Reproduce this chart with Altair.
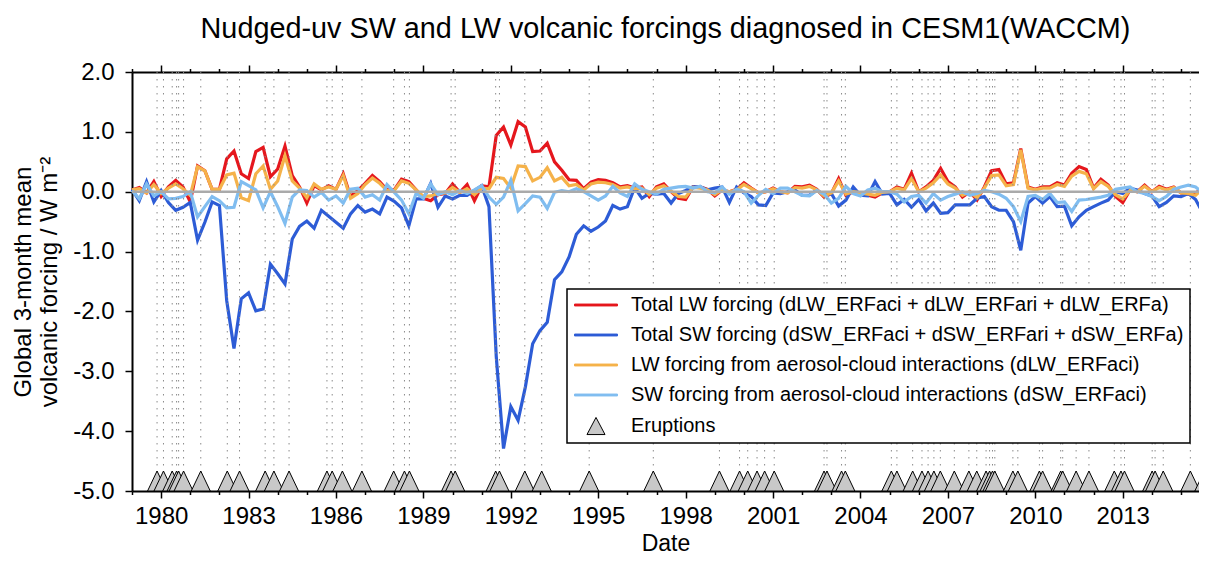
import altair as alt
import pandas as pd

# ---------------- data ----------------
start_year = 1979.0      # first 3-month mean
step_year = 0.25         # quarterly values

lw_total = [
    0.03, 0.07, -0.02, 0.17, -0.08, 0.08, 0.19, 0.08, -0.17, 0.43,
    0.35, 0.04, 0.04, 0.55, 0.68, 0.30, 0.22, 0.67, 0.74, 0.25,
    0.38, 0.76, 0.27, 0.08, -0.19, 0.10, 0.03, 0.10, 0.04, 0.30,
    -0.08, 0.02, 0.14, 0.27, 0.17, 0.03, 0.03, 0.21, 0.17, 0.03,
    -0.11, -0.15, -0.05, -0.03, 0.13, -0.01, 0.12, -0.15, 0.10, 0.08,
    0.94, 1.08, 0.78, 1.17, 1.08, 0.67, 0.68, 0.81, 0.50, 0.36,
    0.20, 0.19, 0.05, 0.16, 0.20, 0.19, 0.15, 0.08, 0.10, 0.06,
    0.08, -0.08, 0.08, 0.13, 0.00, -0.11, -0.13, 0.08, 0.08, 0.04,
    -0.07, 0.03, 0.00, 0.04, 0.15, 0.06, -0.02, 0.00, 0.06, 0.00,
    -0.02, 0.09, 0.08, 0.11, 0.04, -0.09, -0.03, 0.22, -0.06, 0.00,
    -0.03, -0.06, -0.09, -0.02, 0.00, 0.08, 0.04, 0.31, 0.00, 0.08,
    0.19, 0.39, 0.17, 0.08, -0.09, 0.00, -0.14, 0.08, 0.35, 0.37,
    0.13, 0.15, 0.72, 0.08, 0.04, 0.08, 0.08, 0.15, 0.11, 0.31,
    0.42, 0.37, 0.06, 0.21, 0.11, -0.08, -0.18, 0.03, 0.00, 0.11,
    0.00, 0.09, 0.04, 0.08, -0.02, -0.04, -0.03, 0.08,
]
sw_total = [
    0.04, -0.15, 0.17, -0.17, 0.02, -0.18, -0.31, -0.26, -0.18, -0.81,
    -0.51, -0.17, -0.23, -1.82, -2.62, -1.79, -1.69, -1.99, -1.96, -1.21,
    -1.37, -1.54, -0.79, -0.58, -0.49, -0.61, -0.31, -0.41, -0.51, -0.61,
    -0.37, -0.23, -0.34, -0.29, -0.37, -0.09, -0.16, -0.27, -0.57, -0.12,
    -0.12, 0.14, -0.26, -0.07, -0.12, -0.06, -0.06, 0.02, 0.10, -0.25,
    -2.75, -4.29, -3.59, -3.82, -3.26, -2.54, -2.32, -2.18, -1.47, -1.34,
    -1.09, -0.71, -0.57, -0.66, -0.59, -0.49, -0.23, -0.29, -0.25, 0.07,
    -0.11, -0.03, -0.04, -0.03, -0.19, -0.03, 0.02, 0.08, 0.08, 0.03,
    0.06, 0.08, -0.18, 0.08, -0.02, -0.08, -0.22, -0.23, -0.02, -0.03,
    0.00, 0.03, -0.06, -0.06, 0.03, -0.06, -0.03, -0.24, -0.14, 0.08,
    -0.06, -0.07, 0.17, -0.04, -0.03, -0.22, -0.13, -0.26, -0.13, -0.32,
    -0.19, -0.36, -0.35, -0.22, -0.22, -0.22, -0.11, -0.08, -0.25, -0.31,
    -0.31, -0.50, -0.98, -0.19, -0.08, -0.19, -0.08, -0.25, -0.24, -0.57,
    -0.42, -0.31, -0.25, -0.19, -0.14, 0.00, -0.03, 0.06, 0.03, -0.03,
    -0.07, -0.25, -0.18, -0.07, -0.08, -0.03, -0.13, -0.36,
]
lw_aci = [
    0.03, 0.05, -0.02, 0.12, -0.03, 0.06, 0.13, 0.05, -0.06, 0.42,
    0.35, 0.04, 0.04, 0.28, 0.31, -0.10, -0.15, 0.30, 0.43, 0.04,
    0.18, 0.60, 0.18, 0.06, -0.10, 0.13, 0.04, 0.08, 0.04, 0.27,
    -0.11, -0.03, 0.12, 0.23, 0.14, 0.02, 0.02, 0.18, 0.14, 0.03,
    -0.08, -0.07, -0.03, -0.02, 0.07, -0.01, 0.05, -0.05, 0.06, 0.05,
    0.24, 0.22, 0.06, 0.43, 0.42, 0.18, 0.24, 0.40, 0.18, 0.24,
    0.10, 0.12, 0.03, 0.13, 0.16, 0.15, 0.12, 0.06, 0.08, 0.05,
    0.06, -0.05, 0.06, 0.10, 0.01, -0.08, -0.09, 0.07, 0.06, 0.03,
    -0.05, 0.03, 0.00, 0.03, 0.12, 0.05, -0.02, 0.00, 0.05, 0.00,
    -0.02, 0.07, 0.06, 0.09, 0.03, -0.07, -0.02, 0.18, -0.04, 0.00,
    -0.02, -0.04, -0.06, -0.01, 0.00, 0.06, 0.03, 0.22, 0.00, 0.06,
    0.15, 0.28, 0.13, 0.06, -0.06, 0.00, -0.10, 0.06, 0.27, 0.28,
    0.10, 0.12, 0.70, 0.06, 0.03, 0.06, 0.06, 0.12, 0.09, 0.26,
    0.34, 0.30, 0.05, 0.17, 0.09, -0.05, -0.12, 0.02, 0.00, 0.09,
    0.00, 0.07, 0.03, 0.07, -0.02, -0.03, -0.06, 0.06,
]
sw_aci = [
    0.02, -0.12, 0.13, -0.07, 0.00, -0.12, -0.11, -0.08, 0.00, -0.42,
    -0.25, -0.08, -0.15, -0.27, -0.26, 0.17, 0.10, 0.03, -0.27, 0.00,
    -0.25, -0.53, -0.09, 0.03, 0.02, -0.09, -0.01, -0.14, -0.07, -0.19,
    0.04, 0.06, -0.09, -0.05, -0.14, 0.12, -0.01, -0.14, -0.37, -0.03,
    -0.11, 0.13, -0.05, 0.00, -0.05, 0.02, -0.03, 0.03, 0.10, -0.09,
    -0.21, -0.09, 0.19, -0.32, -0.20, -0.07, -0.09, -0.28, -0.01, 0.02,
    0.00, 0.05, 0.00, -0.07, -0.14, -0.07, 0.09, -0.02, -0.08, 0.13,
    0.04, 0.00, -0.04, 0.04, 0.06, 0.08, 0.09, 0.06, 0.09, 0.00,
    -0.02, 0.08, -0.04, 0.04, 0.00, -0.19, -0.06, 0.04, -0.03, 0.06,
    0.06, 0.00, -0.06, -0.07, 0.02, -0.04, -0.19, -0.11, 0.09, -0.03,
    -0.07, 0.03, 0.06, 0.00, 0.00, -0.04, -0.17, -0.08, -0.06, -0.19,
    -0.03, -0.14, -0.08, -0.04, 0.00, -0.06, -0.03, 0.02, 0.00, -0.04,
    -0.11, -0.25, -0.50, -0.08, -0.06, -0.13, -0.03, -0.18, -0.17, -0.33,
    -0.14, -0.13, -0.11, -0.09, -0.06, 0.04, 0.06, 0.08, 0.00, -0.03,
    -0.08, -0.15, -0.08, 0.04, 0.08, 0.11, 0.08, -0.02,
]
eruption_dates = [
    1979.86, 1980.08, 1980.38, 1980.53, 1980.60, 1980.77, 1981.36, 1982.27,
    1982.69, 1983.57, 1983.87, 1984.39, 1985.69, 1985.87, 1986.22, 1986.89,
    1987.98, 1988.35, 1988.52, 1989.95, 1990.09, 1991.48, 1991.61, 1992.48,
    1993.06, 1994.69, 1996.89, 1999.16, 1999.85, 2000.13, 2000.45, 2000.71,
    2001.04, 2002.75, 2002.85, 2003.35, 2003.48, 2005.06, 2005.25, 2005.79,
    2006.11, 2006.32, 2006.52, 2006.74, 2007.22, 2007.72, 2007.99, 2008.31,
    2008.43, 2008.53, 2008.61, 2009.23, 2009.40, 2010.14, 2010.25, 2010.87,
    2010.94, 2011.40, 2011.84, 2012.71, 2012.94, 2013.06, 2014.01, 2014.11,
    2014.39, 2015.32, 2015.80,
]
eruption_base = -5.0
series_names = [
    "Total LW forcing (dLW_ERFaci + dLW_ERFari + dLW_ERFa)",
    "Total SW forcing (dSW_ERFaci + dSW_ERFari + dSW_ERFa)",
    "LW forcing from aerosol-cloud interactions (dLW_ERFaci)",
    "SW forcing from aerosol-cloud interactions (dSW_ERFaci)",
]
eruption_name = "Eruptions"
x_tick_years = list(range(1979, 2016))
y_tick_values = [-5, -4, -3, -2, -1, 0, 1, 2]

# ---------------- styling ----------------
line_colors = ["#e5171d", "#2d5cd6", "#f5b24a", "#80bdf0"]
FONT = "Liberation Sans"
X_DOMAIN = [1979.0, 2015.617]   # plot cut at the right edge of the window
Y_DOMAIN = [-5.0, 2.0]

assert len(lw_total) == len(sw_total) == len(lw_aci) == len(sw_aci) == 148

rows = []
for name, vals in zip(series_names, [lw_total, sw_total, lw_aci, sw_aci]):
    for k, v in enumerate(vals):
        rows.append({"date": start_year + step_year * k, "value": v, "series": name})
lines_df = pd.DataFrame(rows)
erupt_df = pd.DataFrame({"date": eruption_dates,
                         "base": [eruption_base] * len(eruption_dates)})
zero_df = pd.DataFrame({"value": [0.0]})
legend_names = series_names + [eruption_name]
legend_df = pd.DataFrame({"series": legend_names, "value": [None] * 5})

xscale = alt.Scale(domain=X_DOMAIN, nice=False, zero=False)
yscale = alt.Scale(domain=Y_DOMAIN, nice=False, zero=False)

major_test = "(datum.value - 1980) % 3 == 0"
tick_size_cond = {"condition": {"test": major_test, "value": 7}, "value": 3.5}

bottom_axis = alt.Axis(
    orient="bottom", values=x_tick_years,
    labelExpr="(datum.value - 1980) % 3 == 0 ? format(datum.value, 'd') : ''",
    tickSize=tick_size_cond, tickWidth=1.5, tickColor="black",
    domainColor="black", domainWidth=2, grid=False,
    labelFontSize=24, labelFont=FONT, labelColor="black", labelPadding=6,
    labelOverlap=False, labelFlush=False,
    title="Date", titleFontSize=23, titleFont=FONT, titleFontWeight="normal",
    titleColor="black", titlePadding=4,
)
top_axis = alt.Axis(
    orient="top", values=x_tick_years, labels=False, title=None,
    tickSize=tick_size_cond, tickWidth=1.5, tickColor="black",
    domainColor="black", domainWidth=2, grid=False,
)
y_axis = alt.Axis(
    orient="left", values=y_tick_values,
    labelExpr="datum.value < 0 ? '-' + format(-datum.value, '.1f') : format(datum.value, '.1f')",
    tickSize=7, tickWidth=1.5, tickColor="black",
    domainColor="black", domainWidth=2, grid=False,
    labelFontSize=24, labelFont=FONT, labelColor="black", labelPadding=11,
    title=["Global 3-month mean", "volcanic forcing / W m\u207b\u00b2"],
    titleFontSize=24, titleFont=FONT, titleFontWeight="normal", titleColor="black",
    titlePadding=11,
)

# main layer: carries the bottom x axis and the y axis
lines = alt.Chart(lines_df).mark_line(strokeWidth=3.2).encode(
    x=alt.X("date:Q", scale=xscale, axis=bottom_axis),
    y=alt.Y("value:Q", scale=yscale, axis=y_axis),
    color=alt.Color("series:N", scale=alt.Scale(domain=series_names, range=line_colors),
                    legend=None),
)

vlines = alt.Chart(erupt_df).mark_rule(
    color="#8a8a8a", strokeDash=[1.5, 5.5], strokeWidth=1
).encode(x=alt.X("date:Q", scale=xscale, axis=None))

zero = alt.Chart(zero_df).mark_rule(color="#aaaaaa", strokeWidth=2.5).encode(
    y=alt.Y("value:Q", scale=yscale, axis=None)
)

tri_path = "M0,-2L-0.95,0L0.95,0Z"
triangles = alt.Chart(erupt_df).mark_point(
    shape=tri_path, size=400, filled=True, fill="#c8c8c8", stroke="black",
    strokeWidth=1, opacity=1
).encode(
    x=alt.X("date:Q", scale=xscale, axis=top_axis),
    y=alt.Y("base:Q", scale=yscale, axis=None),
)

bar_path = "M-2.26,-0.1H2.26V0.1H-2.26Z"
tri_legend = "M0,-0.9L-0.95,0.9L0.95,0.9Z"
legend_spec = alt.Legend(
    orient="none", legendX=435, legendY=217, title=None,
    padding=6, strokeColor="black", fillColor="white",
    labelFontSize=20, labelFont=FONT, labelColor="black", labelLimit=900,
    symbolSize=361, symbolOffset=13, labelOffset=25, rowPadding=10,
    symbolStrokeWidth=1, zindex=1,
)
legend_layer = alt.Chart(legend_df).mark_point(filled=True, opacity=1, size=361).encode(
    y=alt.Y("value:Q", scale=yscale, axis=None),
    fill=alt.Fill("series:N", scale=alt.Scale(domain=legend_names,
                                              range=line_colors + ["#c8c8c8"]),
                  legend=legend_spec),
    stroke=alt.Stroke("series:N", scale=alt.Scale(domain=legend_names,
                                                  range=line_colors + ["black"]),
                      legend=legend_spec),
    shape=alt.Shape("series:N", scale=alt.Scale(domain=legend_names,
                                                range=[bar_path] * 4 + [tri_legend]),
                    legend=legend_spec),
)

chart = alt.layer(lines, vlines, zero, triangles, legend_layer).resolve_axis(
    x="independent", y="independent"
).properties(
    width=1067, height=419,
    autosize=alt.AutoSizeParams(type="none"),
    padding={"left": 124, "top": 64, "right": 0, "bottom": 63},
    title=alt.TitleParams(
        "Nudged-uv SW and LW volcanic forcings diagnosed in CESM1(WACCM)",
        fontSize=28.8, font=FONT, fontWeight="normal", color="black",
        anchor="middle", offset=16,
    ),
).configure_view(strokeWidth=0).configure_legend(strokeWidth=1.5)

chart.save("out.html", embed_options={"renderer": "svg", "actions": False})
